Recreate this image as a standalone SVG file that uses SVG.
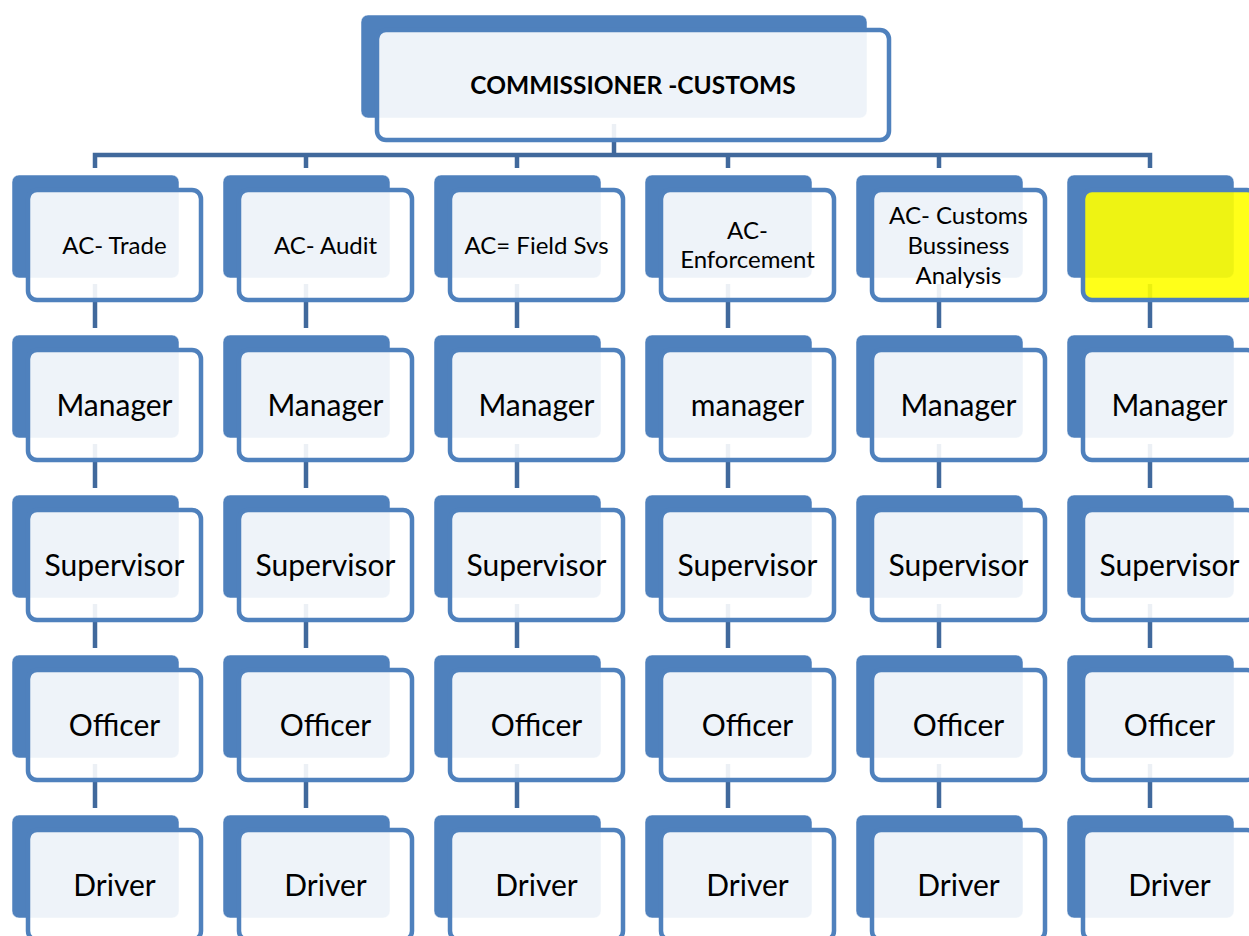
<svg xmlns="http://www.w3.org/2000/svg" width="1249" height="936" viewBox="0 0 1249 936">
<style>
.back{fill:#4F81BD;stroke:#FFFFFF;stroke-opacity:0.5;stroke-width:1}
.frame{fill:#FFFFFF;fill-opacity:0.9;stroke:#4F81BD;stroke-width:4.5}
.yellow{fill:#FFFF00;fill-opacity:0.9;stroke:#4F81BD;stroke-width:4.5}
.conn{fill:none;stroke:#41699C;stroke-width:4.5}
text{font-family:Lato,"Liberation Sans",sans-serif;fill:#000000;text-anchor:middle}
.t1{font-size:24px}
.t2{font-size:30px}
.top{font-size:24.5px;font-weight:bold}
</style>
<rect width="1249" height="936" fill="#FFFFFF"/>
<g id="connectors" class="conn">
<path d="M614,124V155"/>
<path d="M95,168V155H1150V168"/>
<path d="M306,155V168M517,155V168M728,155V168M939,155V168"/>
<path d="M95,284V328M95,444V488M95,604V648M95,764V808"/>
<path d="M306,284V328M306,444V488M306,604V648M306,764V808"/>
<path d="M517,284V328M517,444V488M517,604V648M517,764V808"/>
<path d="M728,284V328M728,444V488M728,604V648M728,764V808"/>
<path d="M939,284V328M939,444V488M939,604V648M939,764V808"/>
<path d="M1150,284V328M1150,444V488M1150,604V648M1150,764V808"/>
</g>
<g id="commissioner"><rect class="back" x="361" y="15" width="506" height="103" rx="7"/><rect class="frame" x="377" y="30" width="512" height="110" rx="9"/><text class="top" x="633" y="94">COMMISSIONER -CUSTOMS</text></g>
<g id="ac-trade"><rect class="back" x="12" y="175" width="167" height="103" rx="7"/><rect class="frame" x="28" y="190" width="173" height="110" rx="9"/><text class="t1" x="114.5" y="254">AC- Trade</text></g>
<g id="ac-audit"><rect class="back" x="223" y="175" width="167" height="103" rx="7"/><rect class="frame" x="239" y="190" width="173" height="110" rx="9"/><text class="t1" x="325.5" y="254">AC- Audit</text></g>
<g id="ac-field"><rect class="back" x="434" y="175" width="167" height="103" rx="7"/><rect class="frame" x="450" y="190" width="173" height="110" rx="9"/><text class="t1" x="536.5" y="254">AC= Field Svs</text></g>
<g id="ac-enforcement"><rect class="back" x="645" y="175" width="167" height="103" rx="7"/><rect class="frame" x="661" y="190" width="173" height="110" rx="9"/><text class="t1" x="747.5" y="239">AC-</text><text class="t1" x="747.5" y="268">Enforcement</text></g>
<g id="ac-customs"><rect class="back" x="856" y="175" width="167" height="103" rx="7"/><rect class="frame" x="872" y="190" width="173" height="110" rx="9"/><text class="t1" x="958.5" y="224">AC- Customs</text><text class="t1" x="958.5" y="254">Bussiness</text><text class="t1" x="958.5" y="284">Analysis</text></g>
<g id="ac-blank"><rect class="back" x="1067" y="175" width="167" height="103" rx="7"/><rect class="yellow" x="1083" y="190" width="173" height="110" rx="9"/></g>
<g id="manager-1"><rect class="back" x="12" y="335" width="167" height="103" rx="7"/><rect class="frame" x="28" y="350" width="173" height="110" rx="9"/><text class="t2" x="114.5" y="416">Manager</text></g>
<g id="manager-2"><rect class="back" x="223" y="335" width="167" height="103" rx="7"/><rect class="frame" x="239" y="350" width="173" height="110" rx="9"/><text class="t2" x="325.5" y="416">Manager</text></g>
<g id="manager-3"><rect class="back" x="434" y="335" width="167" height="103" rx="7"/><rect class="frame" x="450" y="350" width="173" height="110" rx="9"/><text class="t2" x="536.5" y="416">Manager</text></g>
<g id="manager-4"><rect class="back" x="645" y="335" width="167" height="103" rx="7"/><rect class="frame" x="661" y="350" width="173" height="110" rx="9"/><text class="t2" x="747.5" y="416">manager</text></g>
<g id="manager-5"><rect class="back" x="856" y="335" width="167" height="103" rx="7"/><rect class="frame" x="872" y="350" width="173" height="110" rx="9"/><text class="t2" x="958.5" y="416">Manager</text></g>
<g id="manager-6"><rect class="back" x="1067" y="335" width="167" height="103" rx="7"/><rect class="frame" x="1083" y="350" width="173" height="110" rx="9"/><text class="t2" x="1169.5" y="416">Manager</text></g>
<g id="supervisor-1"><rect class="back" x="12" y="495" width="167" height="103" rx="7"/><rect class="frame" x="28" y="510" width="173" height="110" rx="9"/><text class="t2" x="114.5" y="576">Supervisor</text></g>
<g id="supervisor-2"><rect class="back" x="223" y="495" width="167" height="103" rx="7"/><rect class="frame" x="239" y="510" width="173" height="110" rx="9"/><text class="t2" x="325.5" y="576">Supervisor</text></g>
<g id="supervisor-3"><rect class="back" x="434" y="495" width="167" height="103" rx="7"/><rect class="frame" x="450" y="510" width="173" height="110" rx="9"/><text class="t2" x="536.5" y="576">Supervisor</text></g>
<g id="supervisor-4"><rect class="back" x="645" y="495" width="167" height="103" rx="7"/><rect class="frame" x="661" y="510" width="173" height="110" rx="9"/><text class="t2" x="747.5" y="576">Supervisor</text></g>
<g id="supervisor-5"><rect class="back" x="856" y="495" width="167" height="103" rx="7"/><rect class="frame" x="872" y="510" width="173" height="110" rx="9"/><text class="t2" x="958.5" y="576">Supervisor</text></g>
<g id="supervisor-6"><rect class="back" x="1067" y="495" width="167" height="103" rx="7"/><rect class="frame" x="1083" y="510" width="173" height="110" rx="9"/><text class="t2" x="1169.5" y="576">Supervisor</text></g>
<g id="officer-1"><rect class="back" x="12" y="655" width="167" height="103" rx="7"/><rect class="frame" x="28" y="670" width="173" height="110" rx="9"/><text class="t2" x="114.5" y="736">Officer</text></g>
<g id="officer-2"><rect class="back" x="223" y="655" width="167" height="103" rx="7"/><rect class="frame" x="239" y="670" width="173" height="110" rx="9"/><text class="t2" x="325.5" y="736">Officer</text></g>
<g id="officer-3"><rect class="back" x="434" y="655" width="167" height="103" rx="7"/><rect class="frame" x="450" y="670" width="173" height="110" rx="9"/><text class="t2" x="536.5" y="736">Officer</text></g>
<g id="officer-4"><rect class="back" x="645" y="655" width="167" height="103" rx="7"/><rect class="frame" x="661" y="670" width="173" height="110" rx="9"/><text class="t2" x="747.5" y="736">Officer</text></g>
<g id="officer-5"><rect class="back" x="856" y="655" width="167" height="103" rx="7"/><rect class="frame" x="872" y="670" width="173" height="110" rx="9"/><text class="t2" x="958.5" y="736">Officer</text></g>
<g id="officer-6"><rect class="back" x="1067" y="655" width="167" height="103" rx="7"/><rect class="frame" x="1083" y="670" width="173" height="110" rx="9"/><text class="t2" x="1169.5" y="736">Officer</text></g>
<g id="driver-1"><rect class="back" x="12" y="815" width="167" height="103" rx="7"/><rect class="frame" x="28" y="830" width="173" height="110" rx="9"/><text class="t2" x="114.5" y="896">Driver</text></g>
<g id="driver-2"><rect class="back" x="223" y="815" width="167" height="103" rx="7"/><rect class="frame" x="239" y="830" width="173" height="110" rx="9"/><text class="t2" x="325.5" y="896">Driver</text></g>
<g id="driver-3"><rect class="back" x="434" y="815" width="167" height="103" rx="7"/><rect class="frame" x="450" y="830" width="173" height="110" rx="9"/><text class="t2" x="536.5" y="896">Driver</text></g>
<g id="driver-4"><rect class="back" x="645" y="815" width="167" height="103" rx="7"/><rect class="frame" x="661" y="830" width="173" height="110" rx="9"/><text class="t2" x="747.5" y="896">Driver</text></g>
<g id="driver-5"><rect class="back" x="856" y="815" width="167" height="103" rx="7"/><rect class="frame" x="872" y="830" width="173" height="110" rx="9"/><text class="t2" x="958.5" y="896">Driver</text></g>
<g id="driver-6"><rect class="back" x="1067" y="815" width="167" height="103" rx="7"/><rect class="frame" x="1083" y="830" width="173" height="110" rx="9"/><text class="t2" x="1169.5" y="896">Driver</text></g>
</svg>
